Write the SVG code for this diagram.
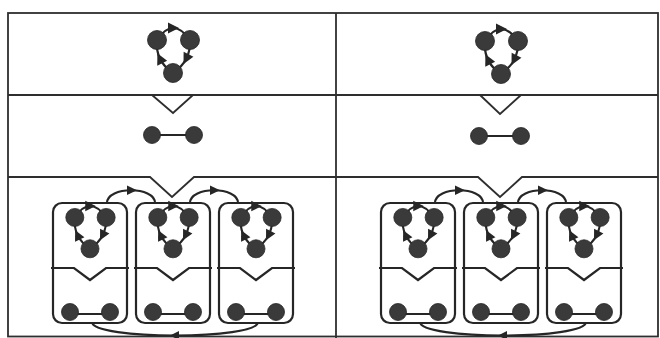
<svg xmlns="http://www.w3.org/2000/svg" xmlns:xlink="http://www.w3.org/1999/xlink" width="660" height="338" viewBox="0 0 660 338">
<style>
.frame{fill:none;stroke:#2e2e2e;stroke-width:1.8}
.ln{fill:none;stroke:#262626;stroke-width:2.2}
.box{fill:none;stroke:#262626;stroke-width:2.2}
.nd{fill:#3a3a3a;stroke:#262626;stroke-width:0.8}
.ah{fill:#262626}
</style>
<defs>
<g id="cyc">
<path class="ln" d="M-16,-9 Q0,-33 17,-9 Q18,12 0,24 Q-18,12 -16,-9" stroke-width="2.6"/>
<polygon class="ah" points="6,0 -5,-5.5 -5,5.5" transform="translate(0,-21)"/>
<polygon class="ah" points="6,0 -5,-5.5 -5,5.5" transform="translate(13.25,9.75) rotate(117)"/>
<polygon class="ah" points="6,0 -5,-5.5 -5,5.5" transform="translate(-13,9.75) rotate(-116)"/>
<circle class="nd" cx="-16" cy="-9" r="9.5"/>
<circle class="nd" cx="17" cy="-9" r="9.5"/>
<circle class="nd" cx="0" cy="24" r="9.5"/>
</g>
<g id="db">
<line class="ln" x1="0" y1="0" x2="42" y2="0"/>
<circle class="nd" cx="0" cy="0" r="8.5"/>
<circle class="nd" cx="42" cy="0" r="8.5"/>
</g>
<g id="cell">
<rect class="box" x="0" y="0" width="74" height="120" rx="9"/>
<use xlink:href="#cyc" transform="translate(37,23) scale(0.95)"/>
<polyline class="ln" points="-2,65 21,65 37,77 53,65 76,65"/>
<line class="ln" x1="17" y1="111" x2="57" y2="111"/>
<circle class="nd" cx="17" cy="109" r="8.5"/>
<circle class="nd" cx="57" cy="109" r="8.5"/>
</g>
</defs>

<g id="frame">
<rect class="frame" x="8" y="13" width="650" height="323.5"/>
<line class="frame" x1="336" y1="13" x2="336" y2="338"/>
<line class="frame" x1="8" y1="95" x2="658" y2="95"/>
<polyline class="frame" points="152,95 173,113 193,95"/>
<polyline class="frame" points="480,95 500,114 521,95"/>
<polyline class="frame" points="8,177 150,177 172,197 194,177 478,177 500,197 522,177 658,177"/>
</g>

<g id="left-cycle"><use xlink:href="#cyc" x="173" y="49"/></g>
<g id="left-pair"><use xlink:href="#db" x="152" y="135"/></g>
<g id="left-cell-1"><use xlink:href="#cell" x="53" y="203"/></g>
<g id="left-cell-2"><use xlink:href="#cell" x="136" y="203"/></g>
<g id="left-cell-3"><use xlink:href="#cell" x="219" y="203"/></g>

<g id="right-cycle"><use xlink:href="#cyc" x="501" y="50"/></g>
<g id="right-pair"><use xlink:href="#db" x="479" y="136"/></g>
<g id="right-cell-1"><use xlink:href="#cell" x="381" y="203"/></g>
<g id="right-cell-2"><use xlink:href="#cell" x="464" y="203"/></g>
<g id="right-cell-3"><use xlink:href="#cell" x="547" y="203"/></g>

<g id="connectors">
<path class="ln" d="M107,203 C107,186 155,186 155,203"/>
<polygon class="ah" points="137,190.3 127,185.5 127,195"/>
<path class="ln" d="M190,203 C190,186 238,186 238,203"/>
<polygon class="ah" points="220,190.3 210,185.5 210,195"/>
<path class="ln" d="M92,322 C92,340 258,340 258,322"/>
<polygon class="ah" points="170,335.5 179,331 179,340"/>

<path class="ln" d="M435,203 C435,186 483,186 483,203"/>
<polygon class="ah" points="465,190.3 455,185.5 455,195"/>
<path class="ln" d="M518,203 C518,186 566,186 566,203"/>
<polygon class="ah" points="548,190.3 538,185.5 538,195"/>
<path class="ln" d="M420,322 C420,340 586,340 586,322"/>
<polygon class="ah" points="498,335.5 507,331 507,340"/>
</g>
</svg>
